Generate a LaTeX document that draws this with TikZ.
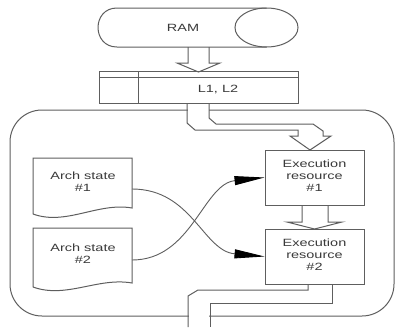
\documentclass[tikz,border=0pt]{standalone}
\usepackage{graphicx}
\usepackage{fontspec}
\setmainfont{Liberation Sans}
\usetikzlibrary{arrows.meta}
\definecolor{ln}{HTML}{5E5E5E}
\definecolor{tx}{HTML}{3A3A3A}
\newcommand{\stx}[1]{\scalebox{1.38}[1]{#1}}
\newcommand{\stl}[1]{\scalebox{1.38}[1]{\begin{tabular}{@{}c@{}}#1\end{tabular}}}
\tikzset{
  line/.style={draw=ln, line width=1pt},
  thin line/.style={draw=ln, line width=0.9pt},
  txt/.style={text=tx, inner sep=0pt, font=\fontsize{10.5}{12}\selectfont},
  exbox/.style={line, minimum width=99pt, minimum height=55pt, inner sep=0pt, text=tx, font=\fontsize{10.5}{12}\selectfont},
  tip/.style={-{Triangle[length=30pt,width=9pt,color=black]}}
}
\begin{document}
\begin{tikzpicture}[x=1pt,y=-1pt]
\useasboundingbox (0,0) rectangle (396,327);
\fill[white] (0,0) rectangle (396,327);

% RAM cylinder
\draw[line] (266.5,8) -- (117,8) .. controls (91.7,8) and (91.7,47) .. (117,47) -- (266.5,47);
\draw[line] (266.5,27.5) ellipse [x radius=31.5, y radius=19.5];
\node[txt] (ram) at (183,27.5) {\stx{RAM}};

% block arrow RAM -> cache
\draw[line] (188,47) -- (188,63) -- (177,63) -- (198.5,72) -- (220,63) -- (209,63) -- (209,47);

% L1, L2 box
\draw[line] (99,71) rectangle (298,103);
\draw[line] (99,77) -- (298,77);
\draw[line] (138,71) -- (138,103);
\node[txt] (cache) at (218,90) {\stx{L1, L2}};

% big rounded container
\draw[line, rounded corners=32pt] (10,110) rectangle (394,316);

% execution resources
\node[exbox] (ex1) at (314.5,177.5) {\stl{Execution\\resource\\\#1}};
\node[exbox] (ex2) at (314.5,256.5) {\stl{Execution\\resource\\\#2}};

% block arrow cache -> ex1
\fill[white] (188,104) rectangle (208.5,122);
\draw[line] (187,103) -- (187,123) -- (195,130) -- (298,130) -- (298,136) -- (290,136) -- (310,150)
  -- (331,136) -- (323,136) -- (323,131) -- (313,124) -- (216,124) -- (209,118) -- (209,103);

% block arrow ex1 -> ex2
\draw[line] (302,205) -- (302,222) -- (287,222) -- (314.5,229) -- (342,222) -- (328,222) -- (328,205);

% block arrow out of ex2
\fill[white] (189,300) rectangle (209,327);
\draw[line] (308,284) -- (308,290) -- (198,290) -- (188,296) -- (188,327);
\draw[line] (332,284) -- (332,303) -- (210,303) -- (210,327);

% arch states (document shapes)
\draw[line] (33,214) -- (33,158) -- (132,158) -- (132,208)
  .. controls (98,202) and (66,226) .. (33,214);
\node[txt] (a1) at (83,183) {\stl{Arch state\\\#1}};
\draw[line] (33,287) -- (33,228) -- (132,228) -- (132,283)
  .. controls (98,277) and (66,299) .. (33,287);
\node[txt] (a2) at (83,255) {\stl{Arch state\\\#2}};

\coordinate (a1out) at (132,189);
\coordinate (a2out) at (132,260);

% crossing connectors
\draw[thin line, tip] (a1out) .. controls (192,189) and (203,251) .. (ex2.west);
\draw[thin line, tip] (a2out) .. controls (192,260) and (203,184) .. (ex1.west);
\end{tikzpicture}
\end{document}
